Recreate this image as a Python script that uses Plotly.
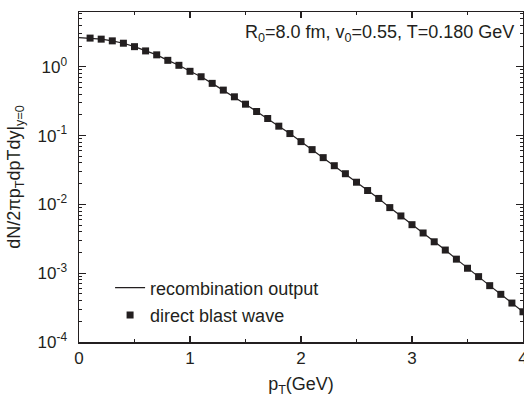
import plotly.graph_objects as go

pt = [0.1, 0.2, 0.3, 0.4, 0.5, 0.6, 0.7, 0.8, 0.9, 1.0,
      1.1, 1.2, 1.3, 1.4, 1.5, 1.6, 1.7, 1.8, 1.9, 2.0,
      2.1, 2.2, 2.3, 2.4, 2.5, 2.6, 2.7, 2.8, 2.9, 3.0,
      3.1, 3.2, 3.3, 3.4, 3.5, 3.6, 3.7, 3.8, 3.9, 4.0]
recomb = [2.61, 2.52, 2.38, 2.20, 1.96, 1.70, 1.49, 1.24, 1.05, 0.859,
          0.716, 0.574, 0.458, 0.366, 0.286, 0.224, 0.177, 0.137, 0.107, 0.0817,
          0.0625, 0.0478, 0.0365, 0.0279, 0.0210, 0.0159, 0.0122, 0.00898, 0.00679, 0.00507,
          0.00384, 0.00286, 0.00217, 0.00160, 0.00118, 0.000891, 0.000659, 0.000493, 0.000368, 0.000275]
blast = recomb[:]

y_tickvals = [1e-4, 1e-3, 1e-2, 1e-1, 1e0]
y_ticktext = ["10<sup>-4</sup>", "10<sup>-3</sup>", "10<sup>-2</sup>", "10<sup>-1</sup>", "10<sup>0</sup>"]

FONT = "Liberation Sans, Arial, sans-serif"
INK = "#231f20"

fig = go.Figure()
fig.add_trace(go.Scatter(x=[0] + pt, y=[2.65] + recomb, mode="lines", name="recombination output",
                         legendgroup="a", line=dict(color=INK, width=1.2)))
fig.add_trace(go.Scatter(x=pt, y=blast, mode="markers", name="direct blast wave",
                         legendgroup="b", marker=dict(symbol="square", size=7, color=INK, line=dict(width=0))))

axis_common = dict(showline=True, linecolor=INK, linewidth=1.5, mirror="allticks",
                   ticks="inside", tickcolor=INK, tickwidth=1.2, showgrid=False, zeroline=False,
                   ticklabeloverflow="allow", automargin=False,
                   tickfont=dict(family=FONT, size=17, color=INK))

fig.update_xaxes(range=[0, 4], tickvals=[0, 1, 2, 3, 4], ticklen=6,
                 minor=dict(ticks="inside", tickvals=[0.5, 1.5, 2.5, 3.5], ticklen=3, tickcolor=INK, tickwidth=1.2),
                 title=dict(text="p<sub>T</sub>(GeV)", font=dict(family=FONT, size=18, color=INK), standoff=10),
                 **axis_common)
fig.update_yaxes(type="log", range=[-4, 0.796], tickvals=y_tickvals, ticktext=y_ticktext, ticklen=7,
                 ticklabelstandoff=7,
                 minor=dict(ticks="inside", dtick="D1", ticklen=3, tickcolor=INK, tickwidth=1),
                 title=dict(text="dN/2πp<sub>T</sub>dpTdy|<sub>y=0</sub>", font=dict(family=FONT, size=18, color=INK), standoff=12),
                 **axis_common)

fig.add_annotation(text="R<sub>0</sub>=8.0 fm, v<sub>0</sub>=0.55, T=0.180 GeV", xref="paper", yref="paper",
                   x=0.985, y=0.975, xanchor="right", yanchor="top", showarrow=False,
                   font=dict(family=FONT, size=18, color=INK))

fig.update_layout(width=524, height=400, margin=dict(l=79, r=1, t=12, b=58, autoexpand=False),
                  paper_bgcolor="white", plot_bgcolor="white",
                  font=dict(family=FONT, color=INK),
                  legend=dict(x=0.07, y=0.22, xanchor="left", yanchor="top", bgcolor="rgba(0,0,0,0)",
                              traceorder="grouped", tracegroupgap=1,
                              font=dict(family=FONT, size=18, color=INK)))

# remove the page's default body margin so the 524x400 figure fills the window exactly
fig.write_html("out.html", config={"displayModeBar": False, "staticPlot": True},
               post_script="document.body.style.margin='0';document.documentElement.style.overflow='hidden';")
